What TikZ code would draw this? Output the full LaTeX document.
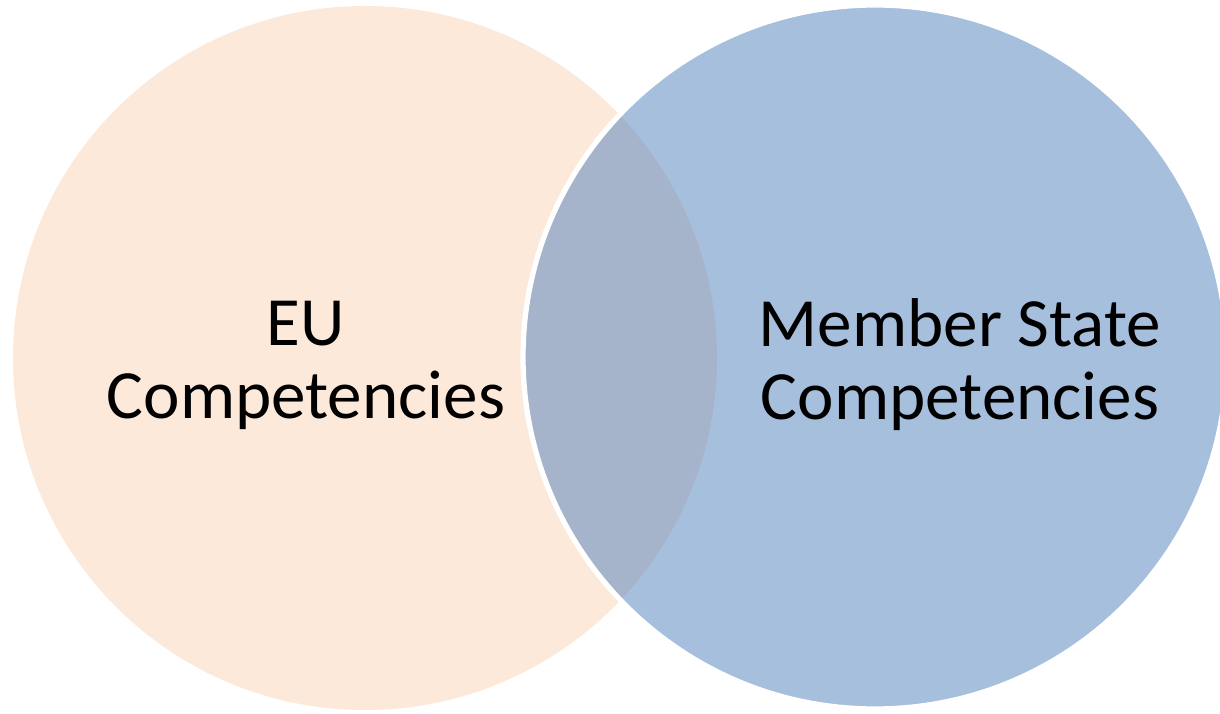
\documentclass[tikz,border=0pt]{standalone}
\usepackage{fontspec}
\setmainfont{Carlito}
\definecolor{peach}{HTML}{FDE9D9}
\definecolor{msblue}{HTML}{4F81BD}
\tikzset{label text/.style={align=center, font=\fontsize{39.3}{41.5}\selectfont}}
\begin{document}
\begin{tikzpicture}
      \clip (0,0) rectangle (24.4,14.26);
      \fill[white] (0,0) rectangle (24.4,14.26);
      \fill[peach] (7.30,7.10) circle (7.04);
      \fill[msblue, fill opacity=0.5] (17.50,7.12) circle (7.04);
      \draw[white, line width=3pt] (17.50,7.12) circle (7.04);
      \node[label text] (eu) at (6.12,6.96) {EU\\Competencies};
      \node[label text] (ms) at (19.20,6.96) {Member State\\Competencies};
    \end{tikzpicture}
\end{document}
